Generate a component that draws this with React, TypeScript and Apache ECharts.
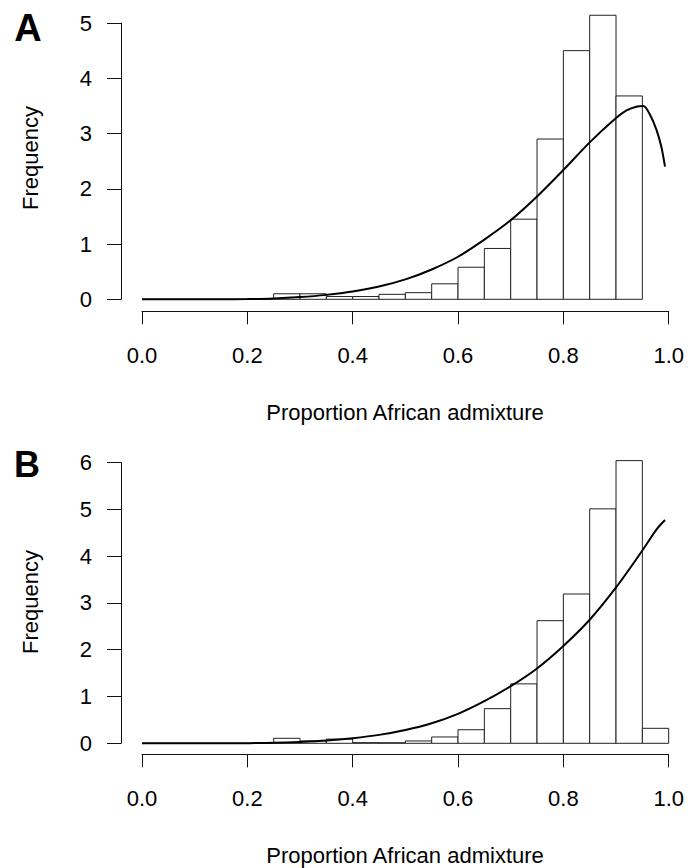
import React, { useEffect, useRef } from "react";
import * as echarts from "echarts";

// Histogram bins (start of each 0.05-wide bin) and densities
const binWidth = 0.05;
const binsA = [0, 0, 0, 0, 0, 0.1, 0.1, 0.05, 0.05, 0.09, 0.12, 0.28, 0.58, 0.92, 1.45, 2.9, 4.5, 5.14, 3.68];
const binsB = [0, 0, 0, 0, 0, 0.107, 0.05, 0.09, 0.014, 0.012, 0.05, 0.135, 0.29, 0.74, 1.27, 2.62, 3.19, 5.01, 6.04, 0.32];

// Fitted density curves (x, y)
const curveAx = [0, 0.05, 0.1, 0.15, 0.2, 0.25, 0.3, 0.35, 0.4, 0.45, 0.5, 0.55, 0.6, 0.65, 0.7, 0.75, 0.8, 0.85, 0.9, 0.92, 0.94, 0.952, 0.965, 0.977, 0.986, 0.993];
const curveAy = [0, 0, 0, 0.001, 0.004, 0.015, 0.04, 0.08, 0.14, 0.23, 0.36, 0.54, 0.77, 1.08, 1.43, 1.86, 2.34, 2.84, 3.28, 3.42, 3.49, 3.5, 3.33, 3.06, 2.76, 2.4];
const curveBx = [0, 0.05, 0.1, 0.15, 0.2, 0.25, 0.3, 0.35, 0.4, 0.45, 0.5, 0.55, 0.6, 0.65, 0.7, 0.75, 0.8, 0.85, 0.9, 0.95, 0.977, 0.993];
const curveBy = [0, 0, 0, 0.001, 0.003, 0.01, 0.03, 0.06, 0.11, 0.18, 0.285, 0.43, 0.63, 0.9, 1.22, 1.6, 2.08, 2.64, 3.33, 4.12, 4.57, 4.77];

const xTicks = [0, 0.2, 0.4, 0.6, 0.8, 1.0];
const yMaxA = 5;
const yMaxB = 6;
const xTitle = "Proportion African admixture";
const yTitle = "Frequency";

const FONT = "'Liberation Sans', Arial, Helvetica, sans-serif";
const INK = "#111";

function histData(bins: number[]) {
  return bins.map((v, i) => [+(i * binWidth).toFixed(2), +((i + 1) * binWidth).toFixed(2), v]);
}

function renderBar(params: any, api: any) {
  const x0 = api.value(0);
  const x1 = api.value(1);
  const v = api.value(2);
  const p0 = api.coord([x0, v]);
  const p1 = api.coord([x1, 0]);
  if (v <= 0) {
    return {
      type: "line",
      shape: { x1: p0[0], y1: p1[1], x2: p1[0], y2: p1[1] },
      style: { stroke: "#222", lineWidth: 1 },
    };
  }
  return {
    type: "rect",
    shape: { x: p0[0], y: p0[1], width: p1[0] - p0[0], height: p1[1] - p0[1] },
    style: { fill: "#fff", stroke: "#222", lineWidth: 1 },
  };
}

function xAxisCfg(gridIndex: number, offset: number) {
  return {
    type: "value",
    gridIndex,
    min: 0,
    max: 1,
    interval: 0.2,
    position: "bottom",
    offset,
    axisLine: { show: true, onZero: false, lineStyle: { color: INK, width: 1 } },
    axisTick: { show: true, length: 13, lineStyle: { color: INK, width: 1 } },
    axisLabel: {
      show: true,
      margin: 33,
      color: "#000",
      fontSize: 22,
      fontFamily: FONT,
      formatter: (v: number) => v.toFixed(1),
      customValues: xTicks,
    },
    splitLine: { show: false },
  };
}

function yAxisCfg(gridIndex: number, max: number) {
  return {
    type: "value",
    gridIndex,
    min: 0,
    max,
    interval: 1,
    position: "left",
    offset: 21,
    axisLine: { show: true, onZero: false, lineStyle: { color: INK, width: 1 } },
    axisTick: { show: true, length: 14, lineStyle: { color: INK, width: 1 } },
    axisLabel: { show: true, margin: 29, color: "#000", fontSize: 22, fontFamily: FONT },
    splitLine: { show: false },
  };
}

export default function App() {
  const ref = useRef<HTMLDivElement>(null);
  useEffect(() => {
    document.body.style.margin = "0";
    if (!ref.current) return;
    const chart = echarts.init(ref.current, undefined, { renderer: "svg" });
    const lineStyle = { color: "#000", width: 2 };
    chart.setOption({
      animation: false,
      backgroundColor: "#fff",
      grid: [
        { left: 142, top: 23, width: 526.7, height: 276.3 },
        { left: 142, top: 462.5, width: 526.7, height: 280.8 },
      ],
      xAxis: [xAxisCfg(0, 12), xAxisCfg(1, 11)],
      yAxis: [yAxisCfg(0, yMaxA), yAxisCfg(1, yMaxB)],
      series: [
        {
          type: "custom",
          xAxisIndex: 0,
          yAxisIndex: 0,
          clip: false,
          data: histData(binsA),
          encode: { x: [0, 1], y: 2 },
          renderItem: renderBar,
        },
        {
          type: "line",
          xAxisIndex: 0,
          yAxisIndex: 0,
          clip: false,
          smooth: 0.3,
          symbol: "none",
          lineStyle,
          data: curveAx.map((x, i) => [x, curveAy[i]]),
        },
        {
          type: "custom",
          xAxisIndex: 1,
          yAxisIndex: 1,
          clip: false,
          data: histData(binsB),
          encode: { x: [0, 1], y: 2 },
          renderItem: renderBar,
        },
        {
          type: "line",
          xAxisIndex: 1,
          yAxisIndex: 1,
          clip: false,
          smooth: 0.3,
          symbol: "none",
          lineStyle,
          data: curveBx.map((x, i) => [x, curveBy[i]]),
        },
      ],
      graphic: [
        {
          type: "text",
          x: 28,
          y: 28,
          style: { text: "A", font: `bold 38px ${FONT}`, fill: "#000", align: "center", verticalAlign: "middle" },
        },
        {
          type: "text",
          x: 27,
          y: 464,
          style: { text: "B", font: `bold 36px ${FONT}`, fill: "#000", align: "center", verticalAlign: "middle" },
        },
        {
          type: "text",
          x: 30,
          y: 158,
          rotation: Math.PI / 2,
          style: { text: yTitle, font: `22px ${FONT}`, fill: "#000", align: "center", verticalAlign: "middle" },
        },
        {
          type: "text",
          x: 30,
          y: 602,
          rotation: Math.PI / 2,
          style: { text: yTitle, font: `22px ${FONT}`, fill: "#000", align: "center", verticalAlign: "middle" },
        },
        {
          type: "text",
          x: 405,
          y: 412,
          style: { text: xTitle, font: `22px ${FONT}`, fill: "#000", align: "center", verticalAlign: "middle" },
        },
        {
          type: "text",
          x: 405,
          y: 855,
          style: { text: xTitle, font: `22px ${FONT}`, fill: "#000", align: "center", verticalAlign: "middle" },
        },
      ],
    });
    return () => chart.dispose();
  }, []);
  return <div ref={ref} style={{ width: 696, height: 868 }} />;
}
